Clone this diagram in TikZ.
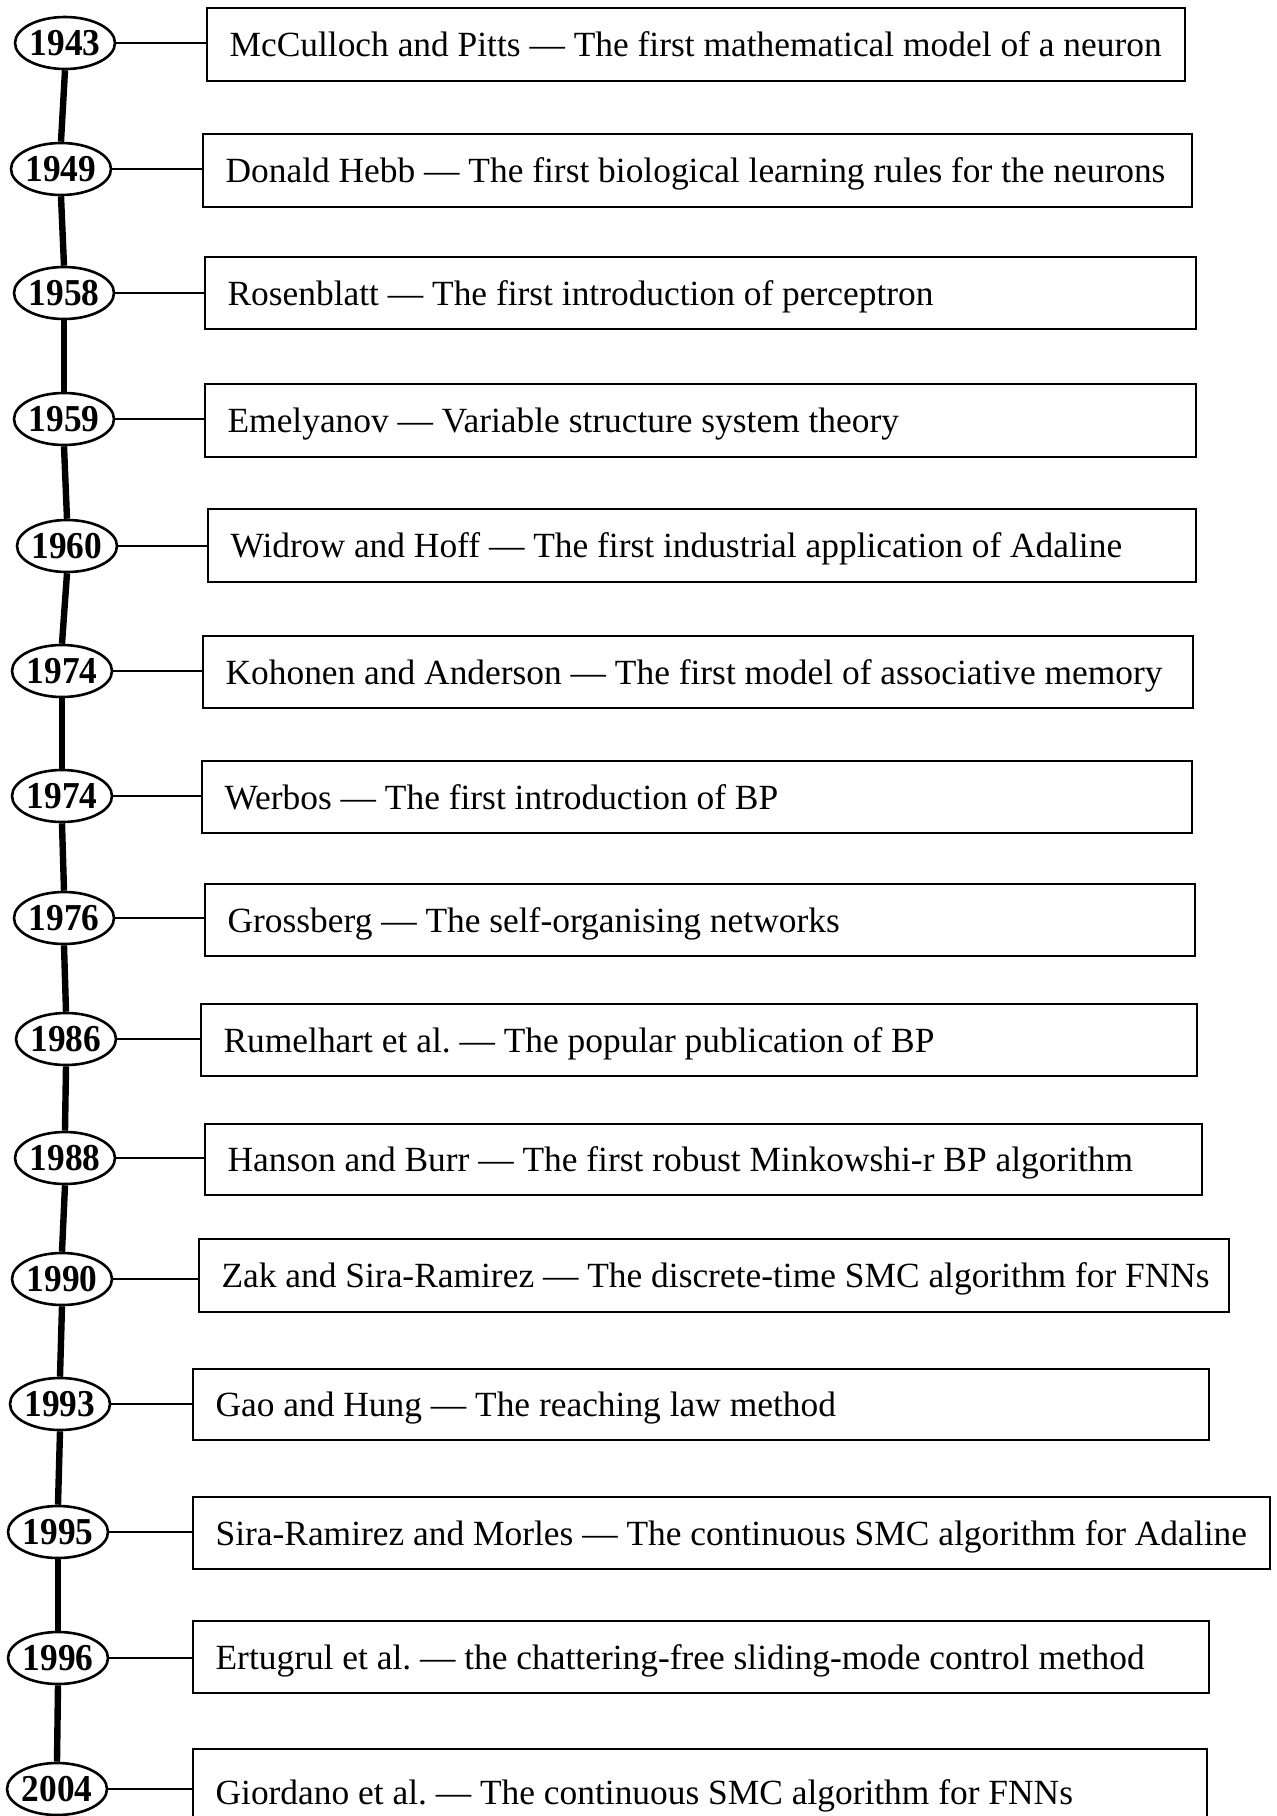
\documentclass[tikz,border=0pt]{standalone}
\usepackage{fontspec}
\setmainfont{Liberation Serif}
\newfontfamily\yearfont[FakeStretch=0.93]{Liberation Serif}
\usetikzlibrary{shapes.geometric,calc}
\tikzset{
  yearnode/.style={ellipse, draw, line width=1.3pt, minimum width=50pt,
    minimum height=26pt, inner sep=0pt, fill=white,
    font=\yearfont\bfseries\fontsize{19}{21}\selectfont},
  eventbox/.style={rectangle, draw, line width=0.8pt, inner sep=0pt},
  eventtext/.style={anchor=base west, inner sep=0pt,
    font=\fontsize{17.7}{20}\selectfont},
  spine/.style={line width=3.2pt},
  link/.style={line width=1pt},
}
\begin{document}
\begin{tikzpicture}[x=0.5pt,y=-0.5pt]
\useasboundingbox (0,0) rectangle (1277,1816);
% year / ellipse centre / box left, right, top, bottom / event text
\foreach \yr/\cx/\cy/\xa/\xb/\ya/\yb/\txt [count=\i] in {
 1943/65/43/207/1185/8/81/{McCulloch and Pitts — The first mathematical model of a neuron},
 1949/61/169/203/1192/134/207/{Donald Hebb — The first biological learning rules for the neurons},
 1958/64/293/205/1196/257/329/{Rosenblatt — The first introduction of perceptron},
 1959/64/419/205/1196/384/457/{Emelyanov — Variable structure system theory},
 1960/67/546/208/1196/509/582/{Widrow and Hoff — The first industrial application of Adaline},
 1974/62/671/203/1193/636/708/{Kohonen and Anderson — The first model of associative memory},
 1974/62/796/202/1192/761/833/{Werbos — The first introduction of BP},
 1976/64/918/205/1195/884/956/{Grossberg — The self-organising networks},
 1986/66/1039/201/1197/1004/1076/{Rumelhart et al.\ — The popular publication of BP},
 1988/65/1158/205/1202/1124/1195/{Hanson and Burr — The first robust Minkowshi-r BP algorithm},
 1990/62/1279/199/1229/1239/1312/{Zak and Sira-Ramirez — The discrete-time SMC algorithm for FNNs},
 1993/60/1404/193/1209/1369/1440/{Gao and Hung — The reaching law method},
 1995/58/1532/193/1270/1497/1569/{Sira-Ramirez and Morles — The continuous SMC algorithm for Adaline},
 1996/58/1658/193/1209/1621/1693/{Ertugrul et al.\ — the chattering-free sliding-mode control method},
 2004/57/1789/193/1207/1749/1835/{Giordano et al.\ — The continuous SMC algorithm for FNNs}
}{
  \node[yearnode] (y\i) at (\cx,\cy) {\makebox[0pt]{\yr}};
  \node[eventbox, minimum width={(\xb-\xa)*0.5pt}, minimum height={(\yb-\ya)*0.5pt}]
    (b\i) at ({(\xa+\xb)/2},{(\ya+\yb)/2}) {};
  \node[eventtext] (t\i) at ($(b\i.west)+(23,12)$) {\txt};
  \draw[link] (y\i.east) -- (y\i.east -| b\i.west);
}
% the time axis joining consecutive years
\foreach \i [evaluate=\i as \j using int(\i+1)] in {1,...,14}
  \draw[spine] (y\i.south) -- (y\j.north);
\end{tikzpicture}
\end{document}
